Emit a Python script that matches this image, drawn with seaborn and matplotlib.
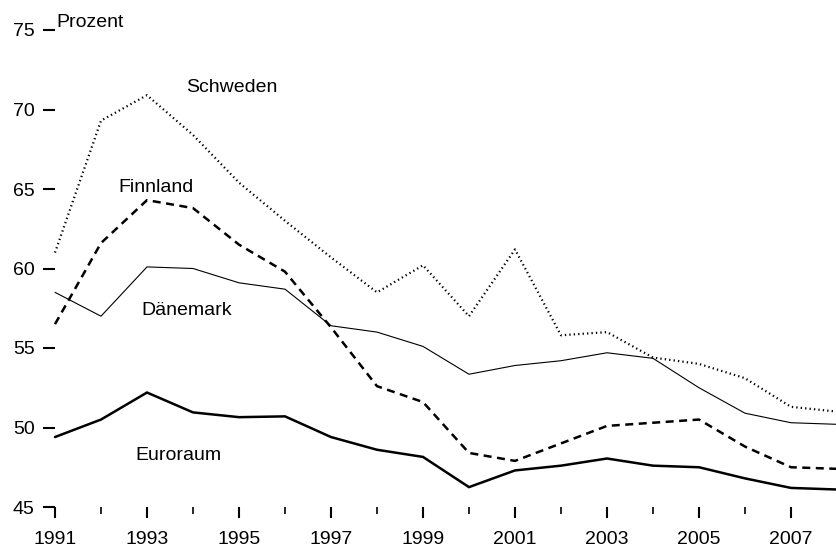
import matplotlib
matplotlib.use("Agg")
import matplotlib.pyplot as plt
from matplotlib import font_manager
from matplotlib.ticker import MultipleLocator
import numpy as np
import pandas as pd
import seaborn as sns

years = list(range(1991, 2009))
schweden = [61.0, 69.3, 70.9, 68.4, 65.4, 63.0, 60.7, 58.5, 60.2, 57.0, 61.2, 55.8, 56.0, 54.4, 54.0, 53.1, 51.3, 51.0]
finnland = [56.5, 61.6, 64.3, 63.8, 61.5, 59.8, 56.3, 52.6, 51.6, 48.4, 47.9, 49.0, 50.1, 50.3, 50.5, 48.8, 47.5, 47.4]
daenemark = [58.5, 57.0, 60.1, 60.0, 59.1, 58.7, 56.4, 56.0, 55.1, 53.35, 53.9, 54.2, 54.7, 54.35, 52.5, 50.9, 50.3, 50.2]
euroraum = [49.4, 50.5, 52.2, 50.95, 50.65, 50.7, 49.4, 48.6, 48.15, 46.25, 47.3, 47.6, 48.05, 47.6, 47.5, 46.8, 46.2, 46.1]
y_ticks = [45, 50, 55, 60, 65, 70, 75]
x_tick_labels = ["1991", "1993", "1995", "1997", "1999", "2001", "2003", "2005", "2007"]
unit_label = "Prozent"

sns.set_theme(style="white")
available = {f.name for f in font_manager.fontManager.ttflist}
if "Liberation Sans Narrow" in available:
    fam = ["Liberation Sans Narrow", "DejaVu Sans"]
    fs = 15
else:
    fam = ["Liberation Sans", "DejaVu Sans"]
    fs = 14
plt.rcParams["font.family"] = fam
plt.rcParams["text.color"] = "black"
plt.rcParams["xtick.color"] = "black"
plt.rcParams["ytick.color"] = "black"

fig = plt.figure(figsize=(8.37, 5.52), dpi=100)
ax = fig.add_axes([55 / 837, 45 / 552, 782 / 837, 477 / 552])

df = pd.DataFrame({"Jahr": years, "Schweden": schweden, "Finnland": finnland,
                   "Dänemark": daenemark, "Euroraum": euroraum})

sns.lineplot(data=df, x="Jahr", y="Schweden", ax=ax, color="black", lw=1.6)
ax.lines[-1].set_dashes((0.6, 1.4))
sns.lineplot(data=df, x="Jahr", y="Finnland", ax=ax, color="black", lw=1.8)
ax.lines[-1].set_dashes((3.2, 2.2))
sns.lineplot(data=df, x="Jahr", y="Dänemark", ax=ax, color="black", lw=0.8)
sns.lineplot(data=df, x="Jahr", y="Euroraum", ax=ax, color="black", lw=1.8)
for ln in ax.lines:
    ln.set_clip_on(False)
    ln.set_solid_joinstyle("miter")

ax.set_xlim(1991, 2008)
ax.set_ylim(45, 75)
for s in ax.spines.values():
    s.set_visible(False)
ax.set_xlabel("")
ax.set_ylabel("")
ax.set_xticks(list(range(1991, 2008, 2)))
ax.set_xticklabels(x_tick_labels)
ax.xaxis.set_minor_locator(MultipleLocator(1))
ax.set_yticks(y_ticks)
ax.set_yticklabels([str(v) for v in y_ticks])
ax.tick_params(axis="y", which="major", left=True, direction="out", length=8.6, width=1.5,
               pad=6, labelsize=fs, colors="black")
ax.tick_params(axis="x", which="major", bottom=True, direction="out", length=8, width=1.5,
               pad=9, labelsize=fs, colors="black")
ax.tick_params(axis="x", which="minor", bottom=True, direction="out", length=5, width=1.2,
               colors="black")
ax.grid(False)

ax.text(1991.02, 75.2, unit_label, fontsize=fs, ha="left", va="baseline", clip_on=False, color="black")
ax.text(1993.84, 71.1, "Schweden", fontsize=fs, ha="left", va="baseline", color="black")
ax.text(1992.37, 64.8, "Finnland", fontsize=fs, ha="left", va="baseline", color="black")
ax.text(1992.88, 57.08, "Dänemark", fontsize=fs, ha="left", va="baseline", color="black")
ax.text(1992.74, 47.96, "Euroraum", fontsize=fs, ha="left", va="baseline", color="black")

fig.savefig("out.png", dpi=100, facecolor="white")
